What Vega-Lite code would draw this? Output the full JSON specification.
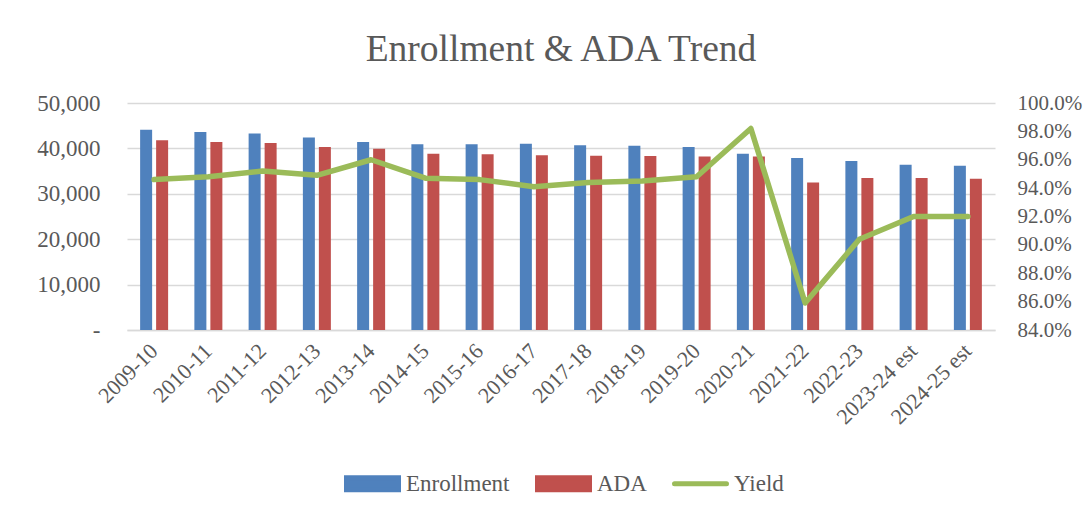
{
  "$schema": "https://vega.github.io/schema/vega-lite/v6.json",
  "width": 868,
  "height": 227,
  "autosize": "none",
  "padding": {"left": 127, "top": 103, "right": 97, "bottom": 181},
  "background": "white",
  "config": {
    "view": {"stroke": null},
    "font": "Liberation Serif",
    "axis": {"labelFont": "Liberation Serif", "labelColor": "#595959", "titleFont": "Liberation Serif"},
    "legend": {"labelFont": "Liberation Serif"}
  },
  "title": {
    "text": "Enrollment & ADA Trend",
    "font": "Liberation Serif",
    "fontSize": 37.5,
    "fontWeight": "normal",
    "color": "#595959",
    "anchor": "middle",
    "frame": "group",
    "baseline": "alphabetic",
    "offset": -6
  },
  "data": {
    "values": [
      {"year": "2009-10", "series": "Enrollment", "value": 44100},
      {"year": "2009-10", "series": "ADA", "value": 41800},
      {"year": "2009-10", "series": "Yield", "value": 0.946},
      {"year": "2010-11", "series": "Enrollment", "value": 43600},
      {"year": "2010-11", "series": "ADA", "value": 41400},
      {"year": "2010-11", "series": "Yield", "value": 0.948},
      {"year": "2011-12", "series": "Enrollment", "value": 43300},
      {"year": "2011-12", "series": "ADA", "value": 41200},
      {"year": "2011-12", "series": "Yield", "value": 0.952},
      {"year": "2012-13", "series": "Enrollment", "value": 42400},
      {"year": "2012-13", "series": "ADA", "value": 40300},
      {"year": "2012-13", "series": "Yield", "value": 0.949},
      {"year": "2013-14", "series": "Enrollment", "value": 41400},
      {"year": "2013-14", "series": "ADA", "value": 39900},
      {"year": "2013-14", "series": "Yield", "value": 0.960},
      {"year": "2014-15", "series": "Enrollment", "value": 40900},
      {"year": "2014-15", "series": "ADA", "value": 38800},
      {"year": "2014-15", "series": "Yield", "value": 0.947},
      {"year": "2015-16", "series": "Enrollment", "value": 40900},
      {"year": "2015-16", "series": "ADA", "value": 38700},
      {"year": "2015-16", "series": "Yield", "value": 0.946},
      {"year": "2016-17", "series": "Enrollment", "value": 41000},
      {"year": "2016-17", "series": "ADA", "value": 38500},
      {"year": "2016-17", "series": "Yield", "value": 0.941},
      {"year": "2017-18", "series": "Enrollment", "value": 40700},
      {"year": "2017-18", "series": "ADA", "value": 38400},
      {"year": "2017-18", "series": "Yield", "value": 0.944},
      {"year": "2018-19", "series": "Enrollment", "value": 40600},
      {"year": "2018-19", "series": "ADA", "value": 38300},
      {"year": "2018-19", "series": "Yield", "value": 0.945},
      {"year": "2019-20", "series": "Enrollment", "value": 40300},
      {"year": "2019-20", "series": "ADA", "value": 38200},
      {"year": "2019-20", "series": "Yield", "value": 0.948},
      {"year": "2020-21", "series": "Enrollment", "value": 38800},
      {"year": "2020-21", "series": "ADA", "value": 38200},
      {"year": "2020-21", "series": "Yield", "value": 0.982},
      {"year": "2021-22", "series": "Enrollment", "value": 37900},
      {"year": "2021-22", "series": "ADA", "value": 32500},
      {"year": "2021-22", "series": "Yield", "value": 0.859},
      {"year": "2022-23", "series": "Enrollment", "value": 37200},
      {"year": "2022-23", "series": "ADA", "value": 33500},
      {"year": "2022-23", "series": "Yield", "value": 0.904},
      {"year": "2023-24 est", "series": "Enrollment", "value": 36400},
      {"year": "2023-24 est", "series": "ADA", "value": 33500},
      {"year": "2023-24 est", "series": "Yield", "value": 0.920},
      {"year": "2024-25 est", "series": "Enrollment", "value": 36200},
      {"year": "2024-25 est", "series": "ADA", "value": 33300},
      {"year": "2024-25 est", "series": "Yield", "value": 0.920}
    ]
  },
  "encoding": {
    "x": {
      "field": "year",
      "type": "nominal",
      "sort": null,
      "title": null,
      "scale": {"paddingInner": 0.484, "paddingOuter": 0.242},
      "axis": {
        "labelAngle": -45,
        "labelAlign": "right",
        "labelBaseline": "middle",
        "labelFontSize": 22,
        "labelPadding": 17,
        "ticks": false,
        "domainColor": "#D9D9D9",
        "domainWidth": 1.5,
        "grid": false
      }
    }
  },
  "layer": [
    {
      "transform": [{"filter": "datum.series !== 'Yield'"}],
      "mark": {"type": "bar"},
      "encoding": {
        "xOffset": {
          "field": "series",
          "sort": ["Enrollment", "ADA"],
          "scale": {"paddingInner": 0.25, "paddingOuter": 0}
        },
        "y": {
          "field": "value",
          "type": "quantitative",
          "title": null,
          "scale": {"domain": [0, 50000], "nice": false},
          "axis": {
            "values": [0, 10000, 20000, 30000, 40000, 50000],
            "labelExpr": "datum.value === 0 ? '-\u00a0\u00a0\u00a0\u00a0\u00a0' : format(datum.value, ',')",
            "labelFontSize": 23,
            "labelPadding": 27,
            "ticks": false,
            "domain": false,
            "gridColor": "#D9D9D9",
            "gridWidth": 1.5
          }
        },
        "color": {
          "field": "series",
          "type": "nominal",
          "scale": {"domain": ["Enrollment", "ADA", "Yield"], "range": ["#4F81BD", "#C0504D", "#9BBB59"]},
          "legend": {
            "title": null,
            "orient": "none",
            "direction": "horizontal",
            "legendX": 217,
            "legendY": 352,
            "padding": 0,
            "labelFontSize": 23,
            "labelColor": "#595959",
            "labelOffset": 5,
            "columnPadding": 17,
            "symbolSize": 2704,
            "symbolStrokeWidth": 5,
            "encode": {
              "symbols": {
                "update": {
                  "shape": {"signal": "datum.value === 'Yield' ? 'M-1,-0.23M-1,0H1M1,0.23' : 'M-1,-0.23H1V0.23H-1Z'"},
                  "fill": {"signal": "datum.value === 'Enrollment' ? '#4F81BD' : datum.value === 'ADA' ? '#C0504D' : 'transparent'"},
                  "stroke": {"signal": "datum.value === 'Yield' ? '#9BBB59' : 'transparent'"},
                  "strokeCap": {"value": "round"},
                  "opacity": {"value": 1}
                }
              }
            }
          }
        }
      }
    },
    {
      "transform": [{"filter": "datum.series === 'Yield'"}],
      "mark": {"type": "line", "strokeWidth": 5.5, "strokeJoin": "round", "strokeCap": "round"},
      "encoding": {
        "y": {
          "field": "value",
          "type": "quantitative",
          "title": null,
          "scale": {"domain": [0.84, 1.0], "nice": false, "zero": false},
          "axis": {
            "orient": "right",
            "values": [0.84, 0.86, 0.88, 0.90, 0.92, 0.94, 0.96, 0.98, 1.0],
            "format": ".1%",
            "labelFontSize": 21,
            "labelPadding": 22,
            "ticks": false,
            "domain": false,
            "grid": false
          }
        },
        "color": {"datum": "Yield", "type": "nominal"}
      }
    }
  ],
  "resolve": {"scale": {"y": "independent"}}
}
